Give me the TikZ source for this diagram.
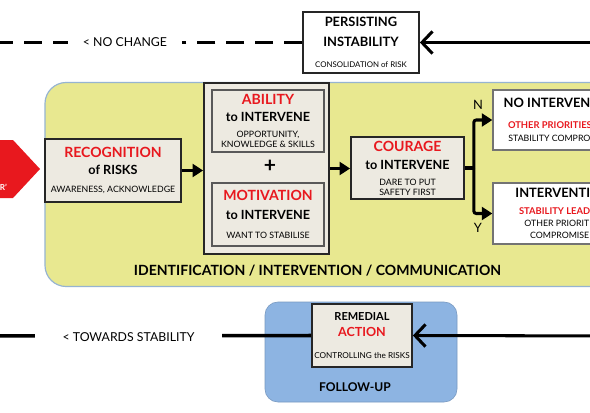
\documentclass[tikz,border=0pt]{standalone}
\usepackage{fontspec}
\setmainfont{Lato}
\usetikzlibrary{arrows.meta}

\definecolor{riskred}{RGB}{232,24,30}
\definecolor{padyellow}{RGB}{232,232,144}
\definecolor{padedge}{RGB}{150,180,210}
\definecolor{padblue}{RGB}{141,180,226}
\definecolor{boxbeige}{RGB}{237,234,225}

\newcommand\headred[2][12]{{\fontsize{#1}{12}\selectfont\bfseries\color{riskred}#2}}
\newcommand\headblk[2][10.8]{{\fontsize{#1}{12}\selectfont\bfseries #2}}
\newcommand\fine[2][7.5]{{\fontsize{#1}{12}\selectfont #2}}

\begin{document}
\begin{tikzpicture}[x=0.3mm, y=-0.3mm,
  font=\fontsize{10}{12}\selectfont,
  stepbox/.style={draw=black!85, line width=1.5pt, fill=boxbeige, align=center, inner sep=0pt},
  inbox/.style={draw=black!65, line width=1.1pt, fill=boxbeige, align=center, inner sep=0pt, minimum width=33.6mm},
  outbox/.style={draw=black!55, line width=1.1pt, fill=white, align=center, inner sep=0pt, minimum width=42mm},
  flow/.style={line width=2.6pt, -{Triangle[length=9pt, width=11pt]}},
  back/.style={line width=2.6pt, -{Straight Barb[length=9pt, width=19pt, line width=2.6pt]}},
  tag/.style={fill=white, inner ysep=2pt, font=\fontsize{10.5}{12}\selectfont}]
  \useasboundingbox (0,0) rectangle (590,413);
  \fill[white] (0,0) rectangle (590,413);
  \clip (0,0) rectangle (590,413);
  \filldraw[fill=padyellow, draw=padedge, line width=1pt, rounded corners=18pt]
    (45,82.5) rectangle (680,286.5);
  \filldraw[fill=padblue, draw=padblue!85!black, line width=0.5pt, rounded corners=11pt]
    (265,302) rectangle (457,402);
  \fill[riskred] (-10,140) -- (13,140) -- (40,169) -- (13,198) -- (-10,198) -- cycle;
  \node[text=white, font=\fontsize{7}{8}\selectfont\bfseries, anchor=east] (trigtop) at (2.5,172) {UNSAFE};
  \node[text=white, font=\fontsize{7}{8}\selectfont\bfseries, anchor=east] (trig) at (11,187) {BEHAVIOUR'};

  \node[stepbox, fill=white, minimum width=34.8mm, minimum height=18.3mm] (persist) at (361,42.5)
    {\headblk[11]{PERSISTING}\\[5pt]\headblk[11]{INSTABILITY}\\[5.9pt]\fine[6.7]{CONSOLIDATION of RISK}};
  \node[stepbox, minimum width=40.8mm, minimum height=18.9mm] (recog) at (113,170.5)
    {\headred{RECOGNITION}\\[2.5pt]\headblk{of RISKS}\\[3.3pt]\fine{AWARENESS, ACKNOWLEDGE}};
  \node[stepbox, minimum width=37.5mm, minimum height=51.3mm] (group) at (266.5,168.5) {};
  \node[inbox, minimum height=18.6mm] (ability) at (268,121)
    {\headred{ABILITY}\\[2.5pt]\headblk{to INTERVENE}\\[1.6pt]\fine{OPPORTUNITY,}\\[-3.5pt]\fine{KNOWLEDGE \& SKILLS}};
  \node[font=\fontsize{18}{18}\selectfont\bfseries] (plus) at (270,166) {+};
  \node[inbox, minimum height=18.9mm] (motiv) at (268,214.5)
    {\headred{MOTIVATION}\\[4.2pt]\headblk{to INTERVENE}\\[4.2pt]\fine{WANT TO STABILISE}};
  \node[stepbox, minimum width=33.9mm, minimum height=18.6mm] (courage) at (407.5,168)
    {\headred{COURAGE}\\[3.3pt]\headblk{to INTERVENE}\\[1.6pt]\fine{DARE TO PUT}\\[-3.5pt]\fine{SAFETY FIRST}};
  \node[outbox, minimum height=18mm] (noint) at (563,120)
    {\headblk[11]{NO INTERVENTION}\\[6.2pt]\fine[8]{\bfseries\color{riskred}OTHER PRIORITIES LEAD}\\[-1pt]\fine{STABILITY COMPROMISED}};
  \node[outbox, minimum height=18.3mm] (interv) at (563,213.5)
    {\headblk[11]{INTERVENTION}\\[2.5pt]\fine[8]{\bfseries\color{riskred}STABILITY LEADING}\\[-1.8pt]\fine{OTHER PRIORITIES}\\[-1.8pt]\fine{COMPROMISED}};
  \node[stepbox, minimum width=30mm, minimum height=18.9mm] (remedial) at (362,335.5)
    {\headblk[9.4]{REMEDIAL}\\[1.6pt]\headred[10.7]{ACTION}\\[6.7pt]\fine[7]{CONTROLLING the RISKS}};
  \node[font=\fontsize{10.3}{12}\selectfont\bfseries] (followup) at (355,387) {FOLLOW-UP};
  \node[font=\fontsize{12}{12}\selectfont\bfseries] (phase) at (317.5,271) {IDENTIFICATION / INTERVENTION / COMMUNICATION};

  \draw[flow] (recog.east) -- (recog.east -| group.west);
  \draw[flow] (group.east) -- (group.east -| courage.west);
  \draw[line width=2.6pt] (courage.east) -- ++(9,0) coordinate (fork);
  \foreach \t in {noint,interv}
    \draw[flow, rounded corners=2pt] (fork) |- (\t.west);
  \node[font=\fontsize{11}{12}\selectfont] (ntag) at (478,105) {N};
  \node[font=\fontsize{11}{12}\selectfont] (ytag) at (478,228) {Y};

  \coordinate (topin) at (620,42.5);
  \coordinate (topout) at (-10,42.5);
  \draw[back] (topin) -- (persist.east);
  \draw[line width=3pt, dash pattern=on 15.3pt off 9.4pt] (persist.west) -- (topout);
  \node[tag, inner xsep=13pt] (nochange) at (125,42.5) {< NO CHANGE};

  \coordinate (botin) at (620,336);
  \coordinate (botout) at (-10,336);
  \draw[back] (botin) -- (remedial.east);
  \draw[line width=3pt] (remedial.west) -- (botout);
  \node[tag, inner xsep=23.4pt] (towards) at (128.5,337) {< TOWARDS STABILITY};
\end{tikzpicture}
\end{document}
